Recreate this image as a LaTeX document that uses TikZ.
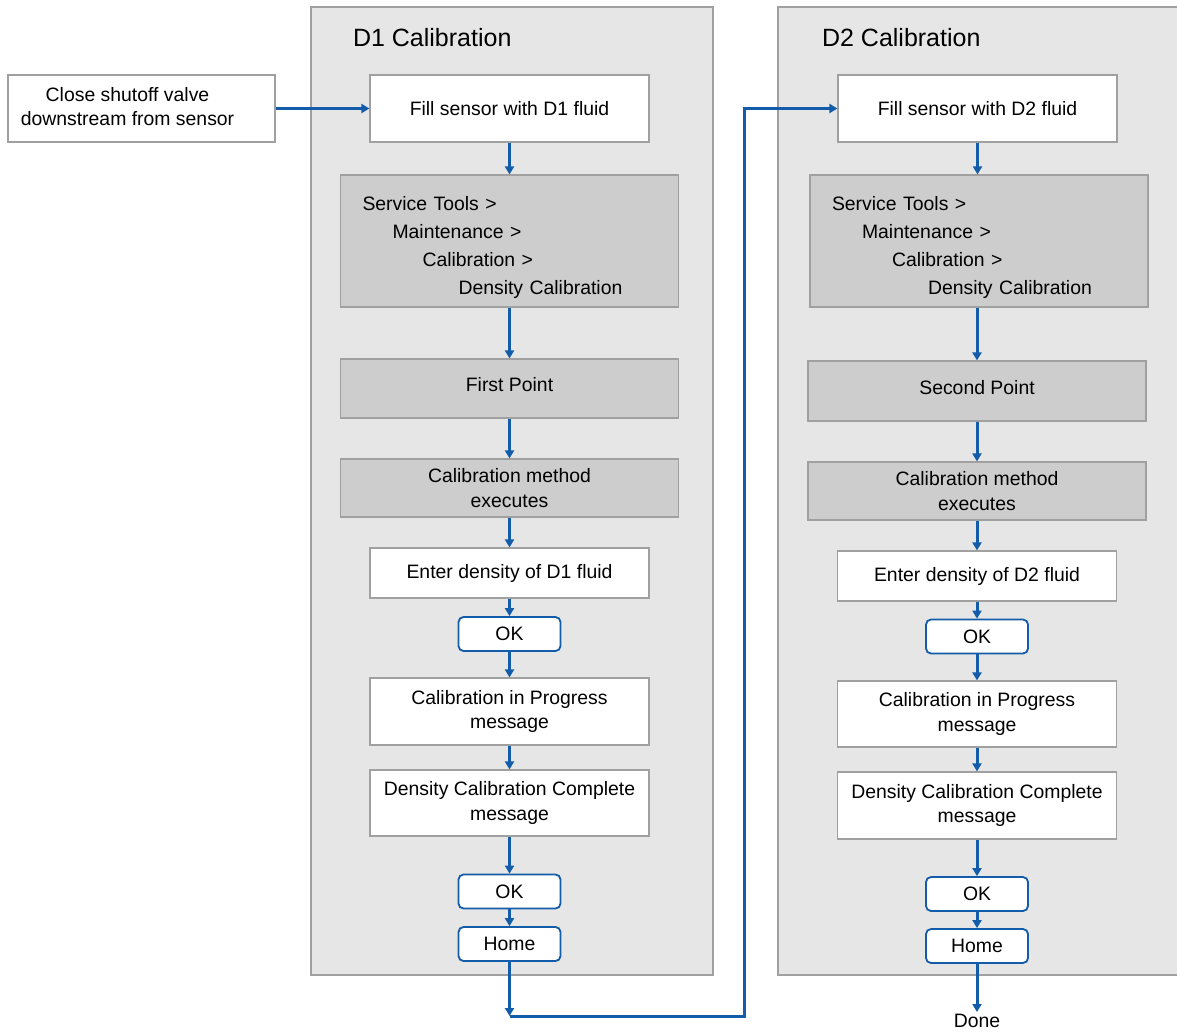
\documentclass[tikz,border=0pt]{standalone}
\usepackage{fontspec}
\setmainfont{Liberation Sans}
\usetikzlibrary{arrows.meta, positioning}
\definecolor{flowblue}{RGB}{18,92,170}
\definecolor{panelgrey}{RGB}{230,230,230}
\definecolor{stepgrey}{RGB}{205,205,205}
\definecolor{edgegrey}{RGB}{160,160,160}
\tikzset{%
    panel/.style={draw=edgegrey, fill=panelgrey, line width=0.6pt},
    paneltitle/.style={anchor=west, font=\fontsize{12.5}{14}\selectfont},
    whitebox/.style={draw=edgegrey, fill=white, line width=0.6pt, align=center, inner sep=0pt, minimum width=139.5pt},
    greybox/.style={draw=edgegrey, fill=stepgrey, line width=0.6pt, align=center, inner sep=0pt, minimum width=169pt},
    keybox/.style={draw=flowblue, fill=white, line width=0.9pt, rounded corners=2.5pt, inner sep=0pt, minimum width=51pt, minimum height=17pt},
    flow/.style={flowblue, line width=1.5pt, -{Triangle[length=4pt, width=4.5pt]}},
    menulist/.style={greybox, align=left, inner xsep=11pt, text width=147pt, minimum height=66pt, font=\fontsize{9.7}{14}\selectfont}
}
\newcommand{\menupath}{\rule{0pt}{14pt}Service Tools >\\\hspace*{15pt}Maintenance >\\\hspace*{30pt}Calibration >\\\hspace*{48pt}Density Calibration}
\begin{document}
\begin{tikzpicture}[x=0.5pt, y=-0.5pt, every node/.style={font=\fontsize{9.7}{12.4}\selectfont}]
    \useasboundingbox (0,0) rectangle (1177,1034);
    % panels
    \draw[panel] (311,7) rectangle (713,975);
    \draw[panel] (778,7) rectangle (1182,975);
    \node[paneltitle] (t1) at (346,38) {D1 Calibration};
    \node[paneltitle] (t2) at (815,38) {D2 Calibration};

    % D1 column
    \node[whitebox, minimum width=133.5pt, minimum height=33.5pt, align=none] (close) at (141.5,108.5) {\begin{tabular}{@{}c@{}}Close shutoff valve\\downstream from sensor\end{tabular}\hspace*{14pt}};
    \node[whitebox, minimum height=33.5pt] (fill1) at (509.5,108.5) {Fill sensor with D1 fluid};
    \node[menulist] (st1) at (509.5,241) {\menupath};
    \node[greybox, minimum height=29.5pt, text depth=4pt] (fp1) at (509.5,388.5) {First Point};
    \node[greybox, minimum height=29pt] (cm1) at (509.5,488) {Calibration method\\executes};
    \node[whitebox, minimum height=25pt] (ed1) at (509.5,573) {Enter density of D1 fluid};
    \node[keybox] (ok1a) at (509.5,634) {OK};
    \node[whitebox, minimum height=33.5pt] (cp1) at (509.5,711.5) {Calibration in Progress\\message};
    \node[whitebox, minimum height=33pt] (dc1) at (509.5,803) {Density Calibration Complete\\message};
    \node[keybox] (ok1b) at (509.5,891.5) {OK};
    \node[keybox] (home1) at (509.5,944) {Home};
    \coordinate (turn) at (509.5,1016);

    % D2 column
    \node[whitebox, minimum height=33.5pt] (fill2) at (977.5,108.5) {Fill sensor with D2 fluid};
    \node[menulist] (st2) at (979,241) {\menupath};
    \node[greybox, minimum height=30pt, text depth=4pt] (sp2) at (977,391) {Second Point};
    \node[greybox, minimum height=29pt] (cm2) at (977,491) {Calibration method\\executes};
    \node[whitebox, minimum height=25pt] (ed2) at (977,576) {Enter density of D2 fluid};
    \node[keybox] (ok2a) at (977,636.5) {OK};
    \node[whitebox, minimum height=33pt] (cp2) at (977,714) {Calibration in Progress\\message};
    \node[whitebox, minimum height=33.5pt] (dc2) at (977,805.5) {Density Calibration Complete\\message};
    \node[keybox] (ok2b) at (977,894) {OK};
    \node[keybox] (home2) at (977,946) {Home};
    \node[inner sep=1pt, anchor=north] (done) at (977,1012) {Done};

    % connectors
    \draw[flow] (close) -- (fill1);
    \draw[flow] (fill1) -- (st1);
    \draw[flow] (st1) -- (fp1);
    \draw[flow] (fp1) -- (cm1);
    \draw[flow] (cm1) -- (ed1);
    \draw[flow] (ed1) -- (ok1a);
    \draw[flow] (ok1a) -- (cp1);
    \draw[flow] (cp1) -- (dc1);
    \draw[flow] (dc1) -- (ok1b);
    \draw[flow] (ok1b) -- (home1);
    \draw[flow] (home1) -- (turn);
    \draw[flow] (turn) -- (744,1016) -- (744,108.5) -- (fill2);
    \draw[flow] (fill2) -- (fill2 |- st2.north);
    \draw[flow] (sp2 |- st2.south) -- (sp2);
    \draw[flow] (sp2) -- (cm2);
    \draw[flow] (cm2) -- (ed2);
    \draw[flow] (ed2) -- (ok2a);
    \draw[flow] (ok2a) -- (cp2);
    \draw[flow] (cp2) -- (dc2);
    \draw[flow] (dc2) -- (ok2b);
    \draw[flow] (ok2b) -- (home2);
    \draw[flow] (home2) -- (done);
\end{tikzpicture}
\end{document}
